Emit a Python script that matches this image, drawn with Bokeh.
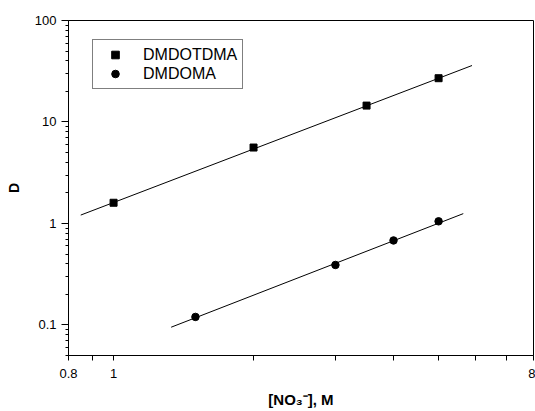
from bokeh.plotting import figure
from bokeh.models import FixedTicker, Legend, LegendItem
from bokeh.embed import file_html
from bokeh.resources import INLINE

# Data
x_dmdotdma = [1.0, 2.0, 3.5, 5.0]
y_dmdotdma = [1.6, 5.6, 14.5, 27.0]
x_dmdoma = [1.5, 3.0, 4.0, 5.0]
y_dmdoma = [0.12, 0.39, 0.68, 1.05]
# fitted lines (end points)
fit_x_dmdotdma = [0.85, 5.9]
fit_y_dmdotdma = [1.21, 36.0]
fit_x_dmdoma = [1.33, 5.65]
fit_y_dmdoma = [0.095, 1.25]

x_major = [0.8, 1, 8]
x_minor = [0.9, 2, 3, 4, 5, 6, 7]
x_labels = ["0.8", "1", "8"]
y_major = [0.1, 1, 10, 100]
y_minor = [0.05, 0.06, 0.07, 0.08, 0.09,
           0.2, 0.3, 0.4, 0.5, 0.6, 0.7, 0.8, 0.9,
           2, 3, 4, 5, 6, 7, 8, 9,
           20, 30, 40, 50, 60, 70, 80, 90]
y_labels = ["0.1", "1", "10", "100"]
series_names = ["DMDOTDMA", "DMDOMA"]

FONT = "Liberation Sans"

p = figure(frame_width=465, frame_height=335,
           x_axis_type="log", y_axis_type="log",
           x_range=(0.8, 8), y_range=(0.05, 100),
           output_backend="svg", toolbar_location=None,
           min_border_left=68, min_border_right=2,
           min_border_top=20, min_border_bottom=56,
           background_fill_color="white", border_fill_color="white")

p.xgrid.visible = False
p.ygrid.visible = False
p.outline_line_color = "black"
p.outline_line_width = 1

# x axis
p.xaxis.ticker = FixedTicker(ticks=x_major, minor_ticks=x_minor)
p.xaxis.major_label_overrides = dict(zip(x_major, x_labels))
p.xaxis.major_tick_in = 0
p.xaxis.major_tick_out = 5
p.xaxis.minor_tick_in = 0
p.xaxis.minor_tick_out = 5
p.xaxis.major_label_standoff = 8
p.xaxis.axis_label = "[NO\u2083\u207b], M"
p.xaxis.axis_label_text_font_style = "bold"
p.xaxis.axis_label_text_font_size = "15px"
p.xaxis.axis_label_text_font = FONT
p.xaxis.axis_label_standoff = 10

# y axis
p.yaxis.ticker = FixedTicker(ticks=y_major, minor_ticks=y_minor)
p.yaxis.major_label_overrides = dict(zip(y_major, y_labels))
p.yaxis.major_tick_in = 0
p.yaxis.major_tick_out = 7
p.yaxis.minor_tick_in = 0
p.yaxis.minor_tick_out = 3
p.yaxis.major_label_standoff = 5
p.yaxis.axis_label = "D"
p.yaxis.axis_label_text_font_style = "bold"
p.yaxis.axis_label_text_font_size = "14px"
p.yaxis.axis_label_text_font = FONT
p.yaxis.axis_label_standoff = 10

for ax in (p.xaxis, p.yaxis):
    ax.axis_line_color = "black"
    ax.major_tick_line_color = "black"
    ax.minor_tick_line_color = "black"
    ax.major_label_text_font = FONT
    ax.major_label_text_font_size = "13px"
    ax.major_label_text_color = "black"
    ax.axis_label_text_color = "black"

# fit lines
p.line(fit_x_dmdotdma, fit_y_dmdotdma, line_color="black", line_width=1)
p.line(fit_x_dmdoma, fit_y_dmdoma, line_color="black", line_width=1)

# points
r1 = p.scatter(x_dmdotdma, y_dmdotdma, marker="square", size=7,
               fill_color="black", line_color="black")
r2 = p.scatter(x_dmdoma, y_dmdoma, marker="circle", size=7.5,
               fill_color="black", line_color="black")

legend = Legend(items=[LegendItem(label=series_names[0], renderers=[r1]),
                       LegendItem(label=series_names[1], renderers=[r2])],
                location=(24, 266), padding=5, spacing=0, margin=0,
                glyph_width=34, glyph_height=19, label_height=19,
                label_standoff=11,
                label_text_font=FONT, label_text_font_size="16px",
                label_text_color="black",
                border_line_color="black", border_line_width=1,
                background_fill_color="white", background_fill_alpha=1)
p.add_layout(legend)

open("out.html", "w").write(file_html(p, INLINE))
